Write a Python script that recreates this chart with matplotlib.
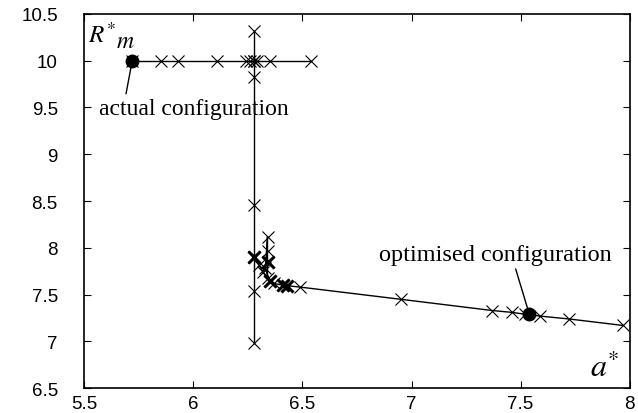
import matplotlib
matplotlib.use("Agg")
import matplotlib.pyplot as plt

# horizontal search at R*m = 10
h_a = [5.72, 5.85, 5.93, 6.11, 6.24, 6.26, 6.28, 6.29, 6.35, 6.54]
h_r = [10.0, 10.0, 10.0, 10.0, 10.0, 10.0, 10.0, 10.0, 10.0, 10.0]

# vertical search at a* = 6.28
v_a = [6.28, 6.28, 6.28, 6.28, 6.28, 6.28, 6.28]
v_r = [10.32, 10.0, 9.83, 8.46, 7.90, 7.54, 6.98]

# descent path towards the optimum
p_a = [6.28, 6.30, 6.32, 6.34, 6.34, 6.34, 6.34, 6.33, 6.35, 6.37, 6.41, 6.49,
       6.95, 7.37, 7.46, 7.52, 7.59, 7.72, 7.97]
p_r = [7.90, 7.82, 7.74, 7.68, 7.85, 7.97, 8.12, 7.78, 7.64, 7.62, 7.60, 7.58,
       7.45, 7.33, 7.31, 7.29, 7.27, 7.24, 7.17]

# repeated evaluations (drawn heavier)
bold_a = [6.28, 6.34, 6.35, 6.41, 6.43]
bold_r = [7.90, 7.85, 7.64, 7.60, 7.59]

actual = (5.72, 10.0)
optimum = (7.54, 7.29)

x_ticks = [5.5, 6, 6.5, 7, 7.5, 8]
y_ticks = [6.5, 7, 7.5, 8, 8.5, 9, 9.5, 10, 10.5]

SERIF = ["Liberation Serif", "DejaVu Serif"]

fig = plt.figure(figsize=(6.38, 4.14), dpi=100)
ax = fig.add_axes([0.132, 0.060, 0.855, 0.904])

mk = dict(color="black", linewidth=1.0, marker="x", markersize=9, markeredgewidth=0.8)
ax.plot(h_a, h_r, **mk)
ax.plot(v_a, v_r, **mk)
ax.plot(p_a, p_r, **mk)
ax.plot(bold_a, bold_r, linestyle="none", marker="x", color="black",
        markersize=9, markeredgewidth=2.2)

ax.plot(*actual, marker="o", color="black", markersize=9, zorder=5)
ax.plot(*optimum, marker="o", color="black", markersize=9, zorder=5)

ax.annotate("actual configuration", xy=actual, xytext=(5.569, 9.49),
            fontsize=17, family=SERIF, ha="left", va="center",
            arrowprops=dict(arrowstyle="-", color="black", lw=1.0,
                            shrinkA=1, shrinkB=0, relpos=(0.137, 1.0)))
ax.annotate("optimised configuration", xy=optimum, xytext=(6.853, 7.93),
            fontsize=17.5, family=SERIF, ha="left", va="center",
            arrowprops=dict(arrowstyle="-", color="black", lw=1.0,
                            shrinkA=1, shrinkB=0, relpos=(0.58, 0.0)))

# axis names written inside the frame
ax.text(5.518, 10.20, r"$R^{*}$", fontsize=18, math_fontfamily="stix",
        ha="left", va="baseline")
ax.text(5.645, 10.147, r"$m$", fontsize=17, math_fontfamily="stix",
        ha="left", va="baseline")
ax.text(7.817, 6.628, r"$a^{*}$", fontsize=23, math_fontfamily="stix",
        ha="left", va="baseline")

ax.set_xlim(5.5, 8)
ax.set_ylim(6.5, 10.5)
ax.set_xticks(x_ticks)
ax.set_xticklabels([f"{t:g}" for t in x_ticks])
ax.set_yticks(y_ticks)
ax.set_yticklabels([f"{t:g}" for t in y_ticks])

for lab in ax.get_xticklabels() + ax.get_yticklabels():
    lab.set_family("Liberation Sans")
ax.tick_params(axis="both", direction="in", top=True, right=True,
               length=5, width=0.8, labelsize=13.5)
ax.tick_params(axis="y", pad=19)
ax.tick_params(axis="x", pad=5)
for spine in ax.spines.values():
    spine.set_linewidth(1.2)

fig.savefig("out.png", dpi=100)
